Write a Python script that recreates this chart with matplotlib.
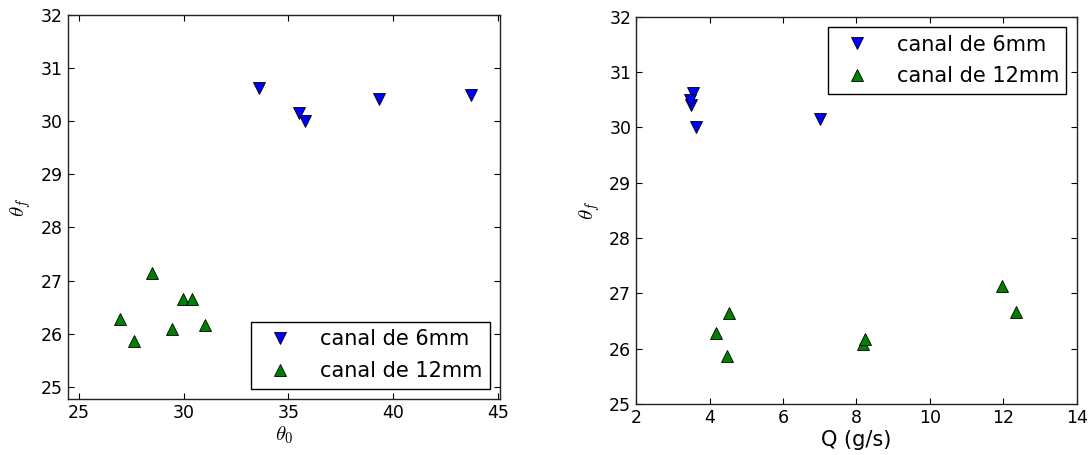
#!/usr/bin/env python3
"""Final angle vs initial angle and flow rate, two channel widths."""

import matplotlib
matplotlib.use("Agg")
import matplotlib.pyplot as plt

# canal de 6mm
THETA0_6 = [33.6, 35.5, 35.8, 39.3, 43.7]
THETAF_6 = [30.62, 30.16, 30.0, 30.41, 30.49]
Q_6 = [3.56, 7.0, 3.62, 3.49, 3.46]

# canal de 12mm
THETA0_12 = [28.47, 26.96, 27.63, 29.43, 29.94, 30.37, 31.0]
THETAF_12 = [27.14, 26.28, 25.87, 26.09, 26.65, 26.66, 26.17]
Q_12 = [11.97, 4.17, 4.48, 8.18, 4.54, 12.34, 8.22]

LABELS = ["canal de 6mm", "canal de 12mm"]

LEGEND_KW = dict(numpoints=1, fontsize=15, fancybox=False, framealpha=1,
                 edgecolor="k", handletextpad=0.85, borderaxespad=0.5,
                 handlelength=2.1, labelspacing=0.57, borderpad=0.35)


def style_axes(ax):
    ax.tick_params(direction="in", top=True, right=True, length=4,
                   labelsize=12.5, width=0.8)
    for sp in ax.spines.values():
        sp.set_linewidth(1.0)
        sp.set_color("#222222")


def main():
    plt.rcParams.update({"mathtext.fontset": "cm", "font.family": "DejaVu Sans"})
    fig = plt.figure(figsize=(10.91, 4.55), dpi=100)

    ax1 = fig.add_axes([0.0623, 0.123, 0.396, 0.844])
    ax1.plot(THETA0_6, THETAF_6, "v", color="b", mec="k", mew=0.6, ms=8, label=LABELS[0])
    ax1.plot(THETA0_12, THETAF_12, "^", color="g", mec="k", mew=0.6, ms=8, label=LABELS[1])
    ax1.set_xlim(24.47, 45.1)
    ax1.set_ylim(24.77, 32)
    ax1.set_xticks([25, 30, 35, 40, 45])
    ax1.set_yticks(range(25, 33))
    ax1.set_xlabel(r"$\theta_0$", fontsize=15, labelpad=2)
    ax1.set_ylabel(r"$\theta_f$", fontsize=15, labelpad=6)
    style_axes(ax1)
    leg1 = ax1.legend(loc="lower right", **LEGEND_KW)
    leg1.get_frame().set_linewidth(1.0)

    ax2 = fig.add_axes([0.583, 0.112, 0.404, 0.851])
    ax2.plot(Q_6, THETAF_6, "v", color="b", mec="k", mew=0.6, ms=8, label=LABELS[0])
    ax2.plot(Q_12, THETAF_12, "^", color="g", mec="k", mew=0.6, ms=8, label=LABELS[1])
    ax2.set_xlim(2, 14)
    ax2.set_ylim(25, 32)
    ax2.set_xticks(range(2, 15, 2))
    ax2.set_yticks(range(25, 33))
    ax2.set_xlabel("Q (g/s)", fontsize=15, labelpad=2)
    ax2.set_ylabel(r"$\theta_f$", fontsize=15, labelpad=5)
    style_axes(ax2)
    leg2 = ax2.legend(loc="upper right", **LEGEND_KW)
    leg2.get_frame().set_linewidth(1.0)

    fig.savefig("out.png", dpi=100)
    plt.close(fig)


if __name__ == "__main__":
    main()
